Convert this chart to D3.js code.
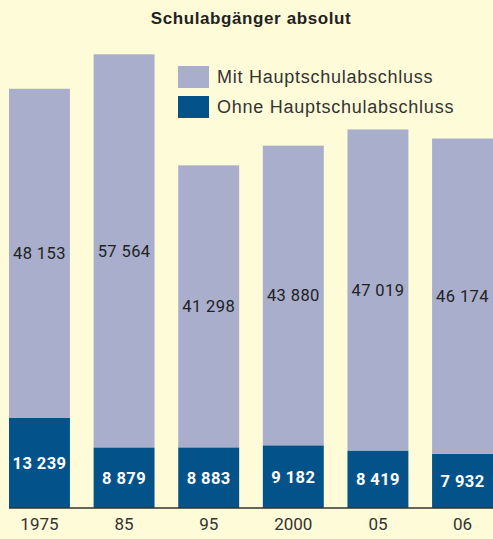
<!DOCTYPE html>
<html lang="de">
<head>
<meta charset="UTF-8">
<title>Schulabgänger absolut</title>
<style>
  body { margin: 0; background: #fefbd8; overflow: hidden; }
  svg { display: block; }
  .title { font-family: "Liberation Sans", Arial, sans-serif; font-weight: bold; font-size: 17px; letter-spacing: 0.6px; fill: #222; }
  .legend text { font-family: "Liberation Sans", Arial, sans-serif; font-size: 18px; letter-spacing: 0.75px; fill: #333; }
  .val { font-family: Roboto, "Open Sans", sans-serif; font-size: 16.5px; letter-spacing: 0.4px; }
  .tick text { font-family: Roboto, "Liberation Sans", sans-serif; font-size: 17px; fill: #333; }
</style>
</head>
<body>
<svg width="493" height="539"></svg>
<script src="https://d3js.org/d3.v7.min.js"></script>
<script>
const years = ["1975", "85", "95", "2000", "05", "06"];
const mitAbschluss = [48153, 57564, 41298, 43880, 47019, 46174];
const ohneAbschluss = [13239, 8879, 8883, 9182, 8419, 7932];
const seriesNames = ["Mit Hauptschulabschluss", "Ohne Hauptschulabschluss"];

const colors = { mit: "#a8aecb", ohne: "#03538a" };

const svg = d3.select("svg");
const baseY = 508;

const fmt = d3.formatLocale({ decimal: ",", thousands: " ", grouping: [3], currency: ["", "€"] }).format(",d");

const x = d3.scaleBand().domain(years).range([9, 493]).paddingInner(0.28).paddingOuter(0);
const y = d3.scaleLinear().domain([0, 70000]).range([baseY, 30]);

const rows = years.map((yr, i) => ({ year: yr, ohne: ohneAbschluss[i], mit: mitAbschluss[i] }));
const stack = d3.stack().keys(["ohne", "mit"])(rows);

svg.append("text").attr("class", "title")
  .attr("x", 251).attr("y", 24).attr("text-anchor", "middle")
  .text("Schulabgänger absolut");

const layers = svg.selectAll("g.layer").data(stack).enter().append("g").attr("class", "layer");

layers.selectAll("rect").data(d => d.map(v => ({ key: d.key, v }))).enter().append("rect")
  .attr("x", d => x(d.v.data.year))
  .attr("width", x.bandwidth())
  .attr("y", d => y(d.v[1]))
  .attr("height", d => y(d.v[0]) - y(d.v[1]))
  .attr("fill", d => colors[d.key]);

layers.selectAll("text").data(d => d.map(v => ({ key: d.key, v }))).enter().append("text")
  .attr("class", "val")
  .attr("x", d => x(d.v.data.year) + x.bandwidth() / 2)
  .attr("y", d => (y(d.v[0]) + y(d.v[1])) / 2)
  .attr("dy", "0.36em")
  .attr("text-anchor", "middle")
  .attr("fill", d => d.key === "ohne" ? "#fff" : "#222")
  .attr("font-weight", d => d.key === "ohne" ? "bold" : "normal")
  .text(d => fmt(d.v.data[d.key]));

// axis
const axis = svg.append("g").attr("transform", `translate(0,${baseY})`)
  .call(d3.axisBottom(x).tickSize(0).tickPadding(10));
axis.select(".domain").remove();
axis.append("line").attr("x1", 9).attr("x2", 493).attr("y1", 0).attr("y2", 0)
  .attr("stroke", "#333").attr("stroke-width", 1.5);

// legend
const legend = svg.append("g").attr("class", "legend");
const legendColors = [colors.mit, colors.ohne];
seriesNames.forEach((name, i) => {
  const g = legend.append("g").attr("transform", `translate(178,${66 + i * 30})`);
  g.append("rect").attr("width", 31).attr("height", 22).attr("fill", legendColors[i]);
  g.append("text").attr("x", 39).attr("y", 11).attr("dy", "0.36em").text(name);
});
</script>
</body>
</html>
